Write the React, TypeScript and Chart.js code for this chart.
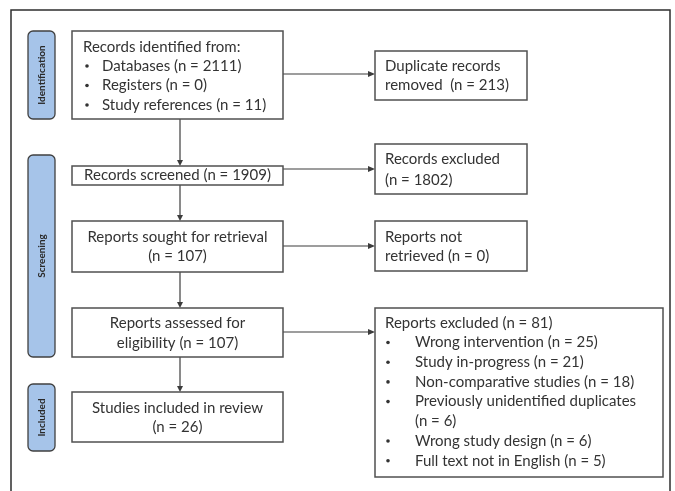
import React, { useEffect, useRef } from "react";
import { Chart, registerables } from "chart.js";

Chart.register(...registerables);

// ---- Data ----
const stageNames = ["Identification", "Screening", "Included"];
const identifiedSources = ["Databases", "Registers", "Study references"];
const identifiedCounts = [2111, 0, 11];
const duplicatesRemoved = 213;
const recordsScreened = 1909;
const recordsExcluded = 1802;
const reportsSought = 107;
const reportsNotRetrieved = 0;
const reportsAssessed = 107;
const studiesIncluded = 26;
const exclusionReasons = [
  "Wrong intervention",
  "Study in-progress",
  "Non-comparative studies",
  "Previously unidentified duplicates",
  "Wrong study design",
  "Full text not in English",
];
const exclusionCounts = [25, 21, 18, 6, 6, 5];

// ---- Layout (positions in scale units) ----
const FONT = "Lato, 'Open Sans', sans-serif";
const TEXT = "#333333";
const LINE = "#3c3c3c";

type Line = { text: string; x: number; y: number; align: CanvasTextAlign; bullet?: number };
type Box = { x0: number; y0: number; x1: number; y1: number; lines: Line[] };

function buildBoxes(): Box[] {
  const cx = 177.5;
  const boxes: Box[] = [];
  const l1: Line[] = [{ text: "Records identified from:", x: 83, y: 47, align: "left" }];
  identifiedSources.forEach((s, i) => {
    l1.push({ text: `${s} (n = ${identifiedCounts[i]})`, x: 102, y: 66 + i * 19.5, align: "left", bullet: 87 });
  });
  boxes.push({ x0: 72, y0: 31, x1: 283, y1: 119, lines: l1 });
  boxes.push({ x0: 72, y0: 166, x1: 283, y1: 185, lines: [{ text: `Records screened (n = ${recordsScreened})`, x: cx, y: 175, align: "center" }] });
  boxes.push({ x0: 72, y0: 221, x1: 283, y1: 272, lines: [
    { text: "Reports sought for retrieval", x: cx, y: 237, align: "center" },
    { text: `(n = ${reportsSought})`, x: cx, y: 256, align: "center" },
  ] });
  boxes.push({ x0: 72, y0: 308, x1: 283, y1: 357, lines: [
    { text: "Reports assessed for", x: cx, y: 323, align: "center" },
    { text: `eligibility (n = ${reportsAssessed})`, x: cx, y: 343, align: "center" },
  ] });
  boxes.push({ x0: 72, y0: 392, x1: 283, y1: 442, lines: [
    { text: "Studies included in review", x: cx, y: 408, align: "center" },
    { text: `(n = ${studiesIncluded})`, x: cx, y: 427, align: "center" },
  ] });
  boxes.push({ x0: 375, y0: 51, x1: 527, y1: 100, lines: [
    { text: "Duplicate records", x: 385, y: 66, align: "left" },
    { text: `removed  (n = ${duplicatesRemoved})`, x: 385, y: 85, align: "left" },
  ] });
  boxes.push({ x0: 375, y0: 144, x1: 527, y1: 194, lines: [
    { text: "Records excluded", x: 385, y: 159, align: "left" },
    { text: `(n = ${recordsExcluded})`, x: 385, y: 180, align: "left" },
  ] });
  boxes.push({ x0: 375, y0: 221, x1: 527, y1: 271, lines: [
    { text: "Reports not", x: 385, y: 237, align: "left" },
    { text: `retrieved (n = ${reportsNotRetrieved})`, x: 385, y: 256, align: "left" },
  ] });
  const total = exclusionCounts.reduce((a, b) => a + b, 0);
  const l9: Line[] = [{ text: `Reports excluded (n = ${total})`, x: 385, y: 323, align: "left" }];
  let y = 342.5;
  exclusionReasons.forEach((r, i) => {
    if (r.startsWith("Previously")) {
      l9.push({ text: r, x: 415, y, align: "left", bullet: 388 });
      y += 19.7;
      l9.push({ text: `(n = ${exclusionCounts[i]})`, x: 415, y, align: "left" });
    } else {
      l9.push({ text: `${r} (n = ${exclusionCounts[i]})`, x: 415, y, align: "left", bullet: 388 });
    }
    y += 19.7;
  });
  boxes.push({ x0: 375, y0: 308, x1: 663, y1: 477, lines: l9 });
  return boxes;
}

const stageLayout = [
  { x0: 28, y0: 31, x1: 55, y1: 119 },
  { x0: 28, y0: 155, x1: 55, y1: 357 },
  { x0: 28, y0: 384, x1: 55, y1: 451 },
];
const vArrows = [
  { x: 180, y0: 119, y1: 166 },
  { x: 180, y0: 185, y1: 221 },
  { x: 180, y0: 272, y1: 308 },
  { x: 180, y0: 357, y1: 392 },
];
const hArrows = [
  { y: 74, x0: 283, x1: 375 },
  { y: 169, x0: 283, x1: 375 },
  { y: 246, x0: 283, x1: 375 },
  { y: 332, x0: 283, x1: 375 },
];

const flowPlugin = {
  id: "flow",
  afterDraw(chart: any) {
    const ctx: CanvasRenderingContext2D = chart.ctx;
    const sx = chart.scales.x;
    const sy = chart.scales.y;
    const X = (v: number) => sx.getPixelForValue(v);
    const Y = (v: number) => sy.getPixelForValue(v);
    ctx.save();
    ctx.fillStyle = "#ffffff";
    ctx.fillRect(0, 0, chart.width, chart.height);
    ctx.strokeStyle = "#2e2e2e";
    ctx.lineWidth = 1.5;
    ctx.strokeRect(X(11), Y(10), X(670) - X(11), Y(500) - Y(10));

    stageLayout.forEach((s, i) => {
      const x0 = X(s.x0), y0 = Y(s.y0), w = X(s.x1) - x0, h = Y(s.y1) - y0;
      ctx.beginPath();
      (ctx as any).roundRect(x0, y0, w, h, 5);
      ctx.fillStyle = "#a6c4e9";
      ctx.fill();
      ctx.strokeStyle = "#404040";
      ctx.lineWidth = 1.3;
      ctx.stroke();
      ctx.save();
      ctx.translate(x0 + w / 2, y0 + h / 2);
      ctx.rotate(-Math.PI / 2);
      ctx.fillStyle = "#2a2a2a";
      ctx.font = `bold 10px ${FONT}`;
      ctx.textAlign = "center";
      ctx.textBaseline = "middle";
      ctx.fillText(stageNames[i], 0, 0);
      ctx.restore();
    });

    ctx.strokeStyle = LINE;
    ctx.fillStyle = LINE;
    ctx.lineWidth = 1.2;
    vArrows.forEach((a) => {
      const x = X(a.x), y0 = Y(a.y0), y1 = Y(a.y1);
      ctx.beginPath();
      ctx.moveTo(x, y0);
      ctx.lineTo(x, y1 - 5);
      ctx.stroke();
      ctx.beginPath();
      ctx.moveTo(x - 3, y1 - 6);
      ctx.lineTo(x + 3, y1 - 6);
      ctx.lineTo(x, y1);
      ctx.closePath();
      ctx.fill();
    });
    hArrows.forEach((a) => {
      const y = Y(a.y), x0 = X(a.x0), x1 = X(a.x1);
      ctx.beginPath();
      ctx.moveTo(x0, y);
      ctx.lineTo(x1 - 5, y);
      ctx.stroke();
      ctx.beginPath();
      ctx.moveTo(x1 - 7, y - 3);
      ctx.lineTo(x1 - 7, y + 3);
      ctx.lineTo(x1, y);
      ctx.closePath();
      ctx.fill();
    });

    buildBoxes().forEach((b) => {
      const x0 = X(b.x0), y0 = Y(b.y0);
      ctx.fillStyle = "#ffffff";
      ctx.fillRect(x0, y0, X(b.x1) - x0, Y(b.y1) - y0);
      ctx.strokeStyle = "#505050";
      ctx.lineWidth = 1.5;
      ctx.strokeRect(x0, y0, X(b.x1) - x0, Y(b.y1) - y0);
      ctx.fillStyle = TEXT;
      ctx.font = `15px ${FONT}`;
      ctx.textBaseline = "middle";
      b.lines.forEach((l) => {
        ctx.textAlign = l.align;
        ctx.fillText(l.text, X(l.x), Y(l.y));
        if (l.bullet !== undefined) {
          ctx.beginPath();
          ctx.arc(X(l.bullet), Y(l.y), 1.8, 0, Math.PI * 2);
          ctx.fill();
        }
      });
    });
    ctx.restore();
  },
};

export default function App() {
  const ref = useRef<HTMLCanvasElement>(null);
  useEffect(() => {
    if (!ref.current) return;
    const chart = new Chart(ref.current, {
      type: "scatter",
      data: { datasets: [{ data: [], pointRadius: 0 }] },
      options: {
        animation: false,
        responsive: false,
        layout: { padding: 0 },
        plugins: { legend: { display: false }, tooltip: { enabled: false } },
        scales: {
          x: { type: "linear", min: 0, max: 675, display: false },
          y: { type: "linear", min: 0, max: 491, reverse: true, display: false },
        },
      },
      plugins: [flowPlugin],
    });
    return () => chart.destroy();
  }, []);
  return (
    <div style={{ position: "absolute", left: 0, top: 0, width: 675, height: 491, background: "#fff" }}>
      <canvas ref={ref} width={675} height={491} style={{ display: "block" }} />
    </div>
  );
}
